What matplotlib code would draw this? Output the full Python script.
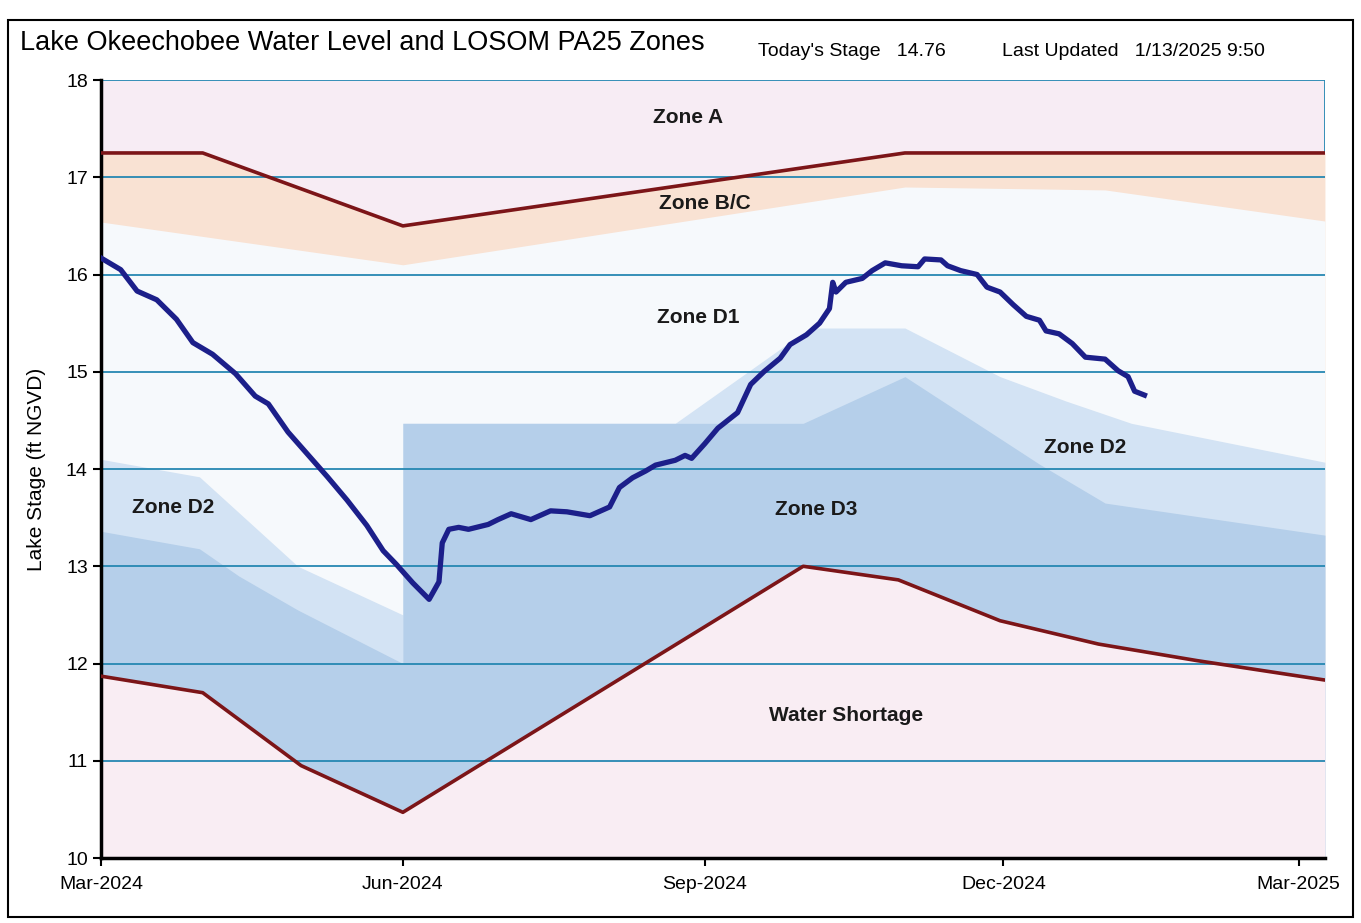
import pandas as pd
import numpy as np
import matplotlib
matplotlib.use("Agg")
import matplotlib.pyplot as plt
import matplotlib.dates as mdates
from matplotlib.patches import Rectangle

plt.rcParams['font.family'] = ['Liberation Sans', 'DejaVu Sans']

START = pd.Timestamp("2024-03-01")

def to_dates(days):
    return START + pd.to_timedelta(np.asarray(days, dtype=float), unit="D")

########## Lake stage (days since 1 Mar 2024, ft NGVD)
stage_days = [0, 6, 11, 17, 23, 28, 34, 41, 47, 51, 57, 63, 69, 75, 81, 86, 90, 95, 100,
              103, 104, 106, 109, 112, 118, 121, 125, 131, 137, 142, 149, 153, 155, 158,
              162, 166, 169, 175, 178, 180, 184, 188, 194, 198, 202, 207, 210, 215, 219,
              222, 223, 224, 227, 232, 235, 239, 244, 249, 251, 256, 258, 262, 267, 270,
              274, 278, 282, 286, 288, 292, 296, 300, 306, 310, 313, 315, 318]
stage = [16.17, 16.05, 15.83, 15.74, 15.54, 15.30, 15.18, 14.98, 14.75, 14.67, 14.38, 14.15,
         13.92, 13.68, 13.42, 13.16, 13.02, 12.83, 12.66,
         12.84, 13.24, 13.38, 13.40, 13.38, 13.43, 13.48, 13.54, 13.48, 13.57, 13.56, 13.52,
         13.58, 13.61, 13.81, 13.91, 13.98, 14.04, 14.09, 14.14, 14.11, 14.26, 14.42, 14.58,
         14.87, 15.00, 15.14, 15.28, 15.38, 15.50, 15.65, 15.92, 15.82, 15.92, 15.96, 16.04,
         16.12, 16.09, 16.08, 16.16, 16.15, 16.09, 16.04, 16.00, 15.87, 15.82, 15.69, 15.57,
         15.53, 15.42, 15.39, 15.29, 15.15, 15.13, 15.01, 14.95, 14.80, 14.76]

########## LOSOM PA25 zone boundaries
a_days = [0, 31, 92, 245, 373]
a_line = [17.25, 17.25, 16.50, 17.25, 17.25]          # Zone A / Zone B/C

bc_days = [0, 92, 245, 306, 373]
bc_bottom = [16.54, 16.10, 16.90, 16.87, 16.55]       # Zone B/C / Zone D1

d2_days = [0, 30, 60, 92, 92, 175, 216, 245, 274, 294, 314, 373]
d2_top = [14.10, 13.92, 13.00, 12.50, 14.47, 14.47, 15.45, 15.45, 14.95, 14.70, 14.47, 14.07]

d3_days = [0, 30, 42, 60, 92, 92, 214, 245, 286, 306, 373]
d3_top = [13.36, 13.18, 12.90, 12.55, 12.00, 14.47, 14.47, 14.95, 14.05, 13.65, 13.32]

ws_days = [0, 31, 61, 92, 214, 243, 274, 304, 334, 373]
ws_line = [11.87, 11.70, 10.95, 10.47, 13.00, 12.86, 12.44, 12.20, 12.03, 11.83]  # Water Shortage

zone_names = ["Zone A", "Zone B/C", "Zone D1", "Zone D2", "Zone D2", "Zone D3", "Water Shortage"]
zone_days = [179, 184, 182, 22, 300, 218, 227]
zone_levels = [17.61, 16.73, 15.56, 13.60, 14.22, 13.58, 11.47]

todays_stage = "14.76"
last_updated = "1/13/2025 9:50"

####### Plot
fig = plt.figure(figsize=(13.61, 9.23), dpi=100)
ax = fig.add_axes([0.0742, 0.0704, 0.8993, 0.8429])

YMIN, YMAX = 10, 18
ax.set_facecolor("#f7ecf4")   # Zone A
ax.fill_between(to_dates(a_days), a_line, YMIN, color="#f9e2d3", lw=0, zorder=1)
ax.fill_between(to_dates(bc_days), bc_bottom, YMIN, color="#f6f9fc", lw=0, zorder=1)
ax.fill_between(to_dates(d2_days), d2_top, YMIN, color="#d3e3f4", lw=0, zorder=1)
ax.fill_between(to_dates(d3_days), d3_top, YMIN, color="#b5cfea", lw=0, zorder=1)
ax.fill_between(to_dates(ws_days), ws_line, YMIN, color="#f9edf3", lw=0, zorder=1)

for lvl in range(11, 19):
    ax.axhline(lvl, color="#2688b2", lw=1.3, zorder=2)
ax.plot([to_dates([373])[0]] * 2, [17.25, 18], color="#2688b2", lw=1.3, zorder=2)

ax.plot(to_dates(a_days), a_line, color="#7c1518", lw=2.6, zorder=3)
ax.plot(to_dates(ws_days), ws_line, color="#7c1518", lw=2.6, zorder=3)
ax.plot(to_dates(stage_days), stage, color="#1c1f8a", lw=3.8, zorder=4)

for name, d, lvl in zip(zone_names, zone_days, zone_levels):
    ax.text(to_dates([d])[0], lvl, name, fontsize=15, fontweight="bold",
            color="#1a1a1a", ha="center", va="center", zorder=5)

##### Axes formatting
ax.set_ylim(YMIN, YMAX)
ax.set_xlim(to_dates([0])[0], to_dates([373])[0])
ax.set_yticks(range(10, 19))
ax.xaxis.set_major_locator(mdates.MonthLocator(bymonth=[3, 6, 9, 12]))
ax.xaxis.set_major_formatter(mdates.DateFormatter("%b-%Y"))
ax.tick_params(axis="both", labelsize=14, length=6, width=1.5, color="black")
ax.tick_params(axis="x", pad=7)
for s in ["top", "right"]:
    ax.spines[s].set_visible(False)
for s in ["left", "bottom"]:
    ax.spines[s].set_linewidth(2.5)
ax.set_ylabel("Lake Stage (ft NGVD)", fontsize=15, labelpad=14)

fig.text(0.015, 0.953, "Lake Okeechobee Water Level and LOSOM PA25 Zones", fontsize=19.5,
         ha="left", va="center")
fig.text(0.557, 0.944, f"Today's Stage   {todays_stage}", fontsize=14, ha="left", va="center")
fig.text(0.736, 0.944, f"Last Updated   {last_updated}", fontsize=14, ha="left", va="center")

fig.patches.append(Rectangle((0.006, 0.006), 0.988, 0.972, transform=fig.transFigure,
                             fill=False, edgecolor="black", lw=1.5))

fig.savefig("out.png", dpi=100)
